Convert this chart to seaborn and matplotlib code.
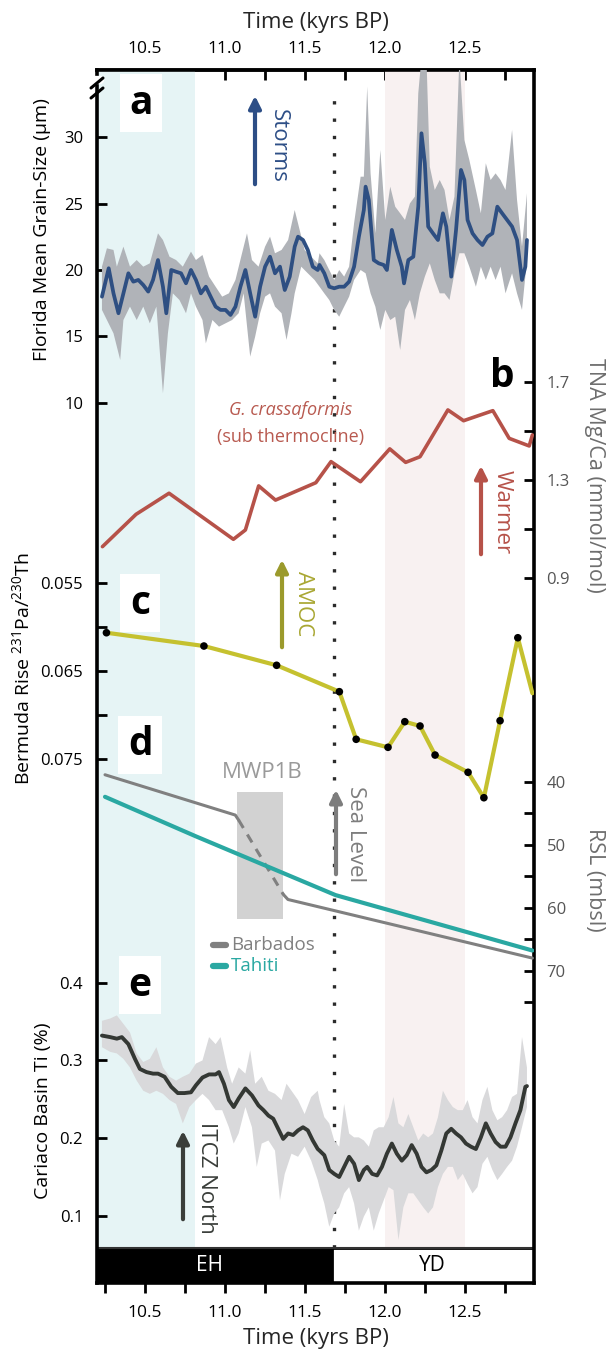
import numpy as np
import seaborn as sns
import matplotlib.pyplot as plt
from matplotlib import font_manager
from matplotlib.patches import Rectangle, FancyArrowPatch
from matplotlib.lines import Line2D

# ---------------- data ----------------
# a: Florida mean grain size (um), smoothed line + raw envelope
grain_t = [10.231, 10.273, 10.303, 10.334, 10.365, 10.396, 10.427, 10.458, 10.489, 10.52,
           10.55, 10.581, 10.612, 10.633, 10.664, 10.694, 10.725, 10.756, 10.787, 10.818,
           10.849, 10.88, 10.91, 10.941, 10.972, 11.003, 11.034, 11.065, 11.096, 11.127,
           11.157, 11.188, 11.219, 11.25, 11.281, 11.312, 11.343, 11.373, 11.404, 11.435,
           11.456, 11.487, 11.517, 11.548, 11.579, 11.59, 11.62, 11.651, 11.682, 11.713,
           11.744, 11.775, 11.806, 11.836, 11.867, 11.878, 11.898, 11.929, 11.96, 11.991,
           12.011, 12.042, 12.073, 12.104, 12.118, 12.145, 12.176, 12.207, 12.227, 12.248,
           12.269, 12.299, 12.33, 12.361, 12.382, 12.413, 12.443, 12.474, 12.495, 12.515,
           12.546, 12.577, 12.608, 12.639, 12.67, 12.701, 12.731, 12.762, 12.793, 12.824,
           12.855, 12.876, 12.886]
grain = [17.99, 20.13, 18.24, 16.74, 18.24, 19.75, 19.12, 19.25, 18.87, 18.37,
         19.25, 20.75, 18.74, 16.74, 20.0, 19.87, 19.75, 19.0, 20.0, 19.25,
         18.24, 18.74, 17.99, 17.24, 16.99, 16.99, 16.61, 17.24, 18.74, 20.0,
         18.24, 16.48, 18.74, 20.25, 21.0, 19.75, 20.25, 18.49, 19.5, 21.76,
         22.51, 22.26, 21.51, 20.25, 20.0, 20.38, 19.75, 18.74, 18.62, 18.74,
         18.74, 19.12, 20.25, 22.51, 24.52, 26.28, 25.28, 20.75, 20.5, 20.38,
         20.0, 23.02, 21.51, 20.25, 18.99, 20.75, 21.0, 24.77, 30.3, 28.04,
         23.27, 22.76, 22.26, 24.27, 23.27, 19.5, 23.02, 27.54, 26.78, 23.77,
         22.76, 22.26, 21.88, 22.51, 22.76, 24.77, 24.27, 23.77, 23.27, 22.26,
         19.25, 20.25, 22.26]
grain_hi_t = [10.231, 10.262, 10.303, 10.324, 10.365, 10.406, 10.448, 10.489, 10.53, 10.581,
              10.612, 10.653, 10.694, 10.736, 10.787, 10.818, 10.859, 10.9, 10.941, 10.982,
              11.024, 11.065, 11.106, 11.137, 11.168, 11.209, 11.25, 11.281, 11.312, 11.353,
              11.394, 11.435, 11.466, 11.497, 11.538, 11.579, 11.59, 11.62, 11.651, 11.682,
              11.713, 11.744, 11.775, 11.806, 11.847, 11.867, 11.888, 11.909, 11.939, 11.97,
              12.001, 12.032, 12.063, 12.094, 12.124, 12.155, 12.186, 12.207, 12.227, 12.258,
              12.279, 12.31, 12.341, 12.371, 12.402, 12.433, 12.464, 12.495, 12.526, 12.567,
              12.598, 12.629, 12.659, 12.69, 12.721, 12.752, 12.793, 12.824, 12.855, 12.886]
grain_hi = [20.25, 21.63, 21.51, 20.25, 21.76, 20.25, 20.75, 20.25, 20.5, 22.76,
            22.26, 21.0, 20.75, 20.25, 21.38, 20.75, 21.13, 19.5, 18.74, 17.99,
            18.24, 19.25, 21.26, 22.76, 20.75, 20.25, 21.76, 22.51, 21.26, 21.51,
            22.26, 24.52, 23.02, 21.51, 21.0, 20.5, 21.26, 20.75, 20.0, 19.25,
            20.0, 19.5, 20.25, 23.52, 27.03, 27.03, 33.82, 27.28, 22.76, 29.04,
            23.77, 26.28, 24.77, 24.27, 23.77, 25.02, 25.53, 33.31, 36.0, 36.0,
            27.79, 26.03, 26.78, 26.03, 23.77, 25.53, 36.0, 29.8, 28.29, 26.03,
            24.27, 28.04, 26.78, 27.28, 26.78, 26.03, 30.55, 25.28, 21.76, 25.78]
grain_lo_t = [10.231, 10.262, 10.303, 10.345, 10.365, 10.406, 10.448, 10.489, 10.53, 10.571,
              10.612, 10.643, 10.674, 10.715, 10.756, 10.787, 10.818, 10.859, 10.88, 10.921,
              10.962, 11.003, 11.044, 11.085, 11.116, 11.157, 11.188, 11.219, 11.25, 11.281,
              11.312, 11.353, 11.384, 11.415, 11.435, 11.476, 11.517, 11.559, 11.59, 11.62,
              11.651, 11.682, 11.713, 11.744, 11.775, 11.806, 11.847, 11.878, 11.909, 11.939,
              11.97, 12.001, 12.032, 12.063, 12.094, 12.124, 12.155, 12.186, 12.217, 12.248,
              12.279, 12.31, 12.341, 12.371, 12.402, 12.433, 12.464, 12.495, 12.526, 12.567,
              12.598, 12.629, 12.659, 12.69, 12.721, 12.752, 12.793, 12.824, 12.855, 12.886]
grain_lo = [16.99, 16.23, 15.23, 13.22, 16.23, 17.24, 16.23, 17.24, 15.98, 17.24,
            10.71, 15.23, 18.24, 17.74, 16.74, 18.24, 17.24, 16.23, 14.47, 16.23,
            15.73, 15.98, 16.23, 16.74, 18.24, 13.47, 14.98, 16.74, 17.99, 18.24,
            17.24, 16.74, 14.73, 16.74, 18.24, 20.25, 19.75, 19.25, 18.74, 18.24,
            17.74, 16.99, 16.48, 17.24, 17.99, 19.25, 20.0, 19.75, 18.24, 17.24,
            15.48, 16.99, 16.23, 16.48, 13.97, 16.99, 17.74, 16.23, 18.24, 19.5,
            20.5, 19.25, 18.24, 18.24, 17.74, 19.75, 21.26, 21.26, 20.25, 18.74,
            20.25, 19.25, 20.25, 19.25, 20.25, 18.24, 19.75, 18.24, 16.99, 20.75]

# b: TNA Mg/Ca (mmol/mol), G. crassaformis
mgca_t = [10.234, 10.444, 10.65, 11.052, 11.127, 11.21, 11.315, 11.567, 11.662, 11.846,
          12.029, 12.128, 12.218, 12.392, 12.49, 12.673, 12.775, 12.9, 12.92]
mgca = [1.028, 1.16, 1.246, 1.058, 1.096, 1.276, 1.218, 1.289, 1.375, 1.293,
        1.427, 1.372, 1.395, 1.586, 1.542, 1.583, 1.47, 1.439, 1.484]

# c: Bermuda Rise 231Pa/230Th
amoc_t = [10.259, 10.868, 11.322, 11.714, 11.819, 12.018, 12.123, 12.218, 12.312, 12.518,
          12.617, 12.718, 12.829, 12.92]
amoc = [0.06065, 0.06216, 0.06435, 0.06735, 0.07276, 0.07367, 0.07076, 0.07125, 0.07455, 0.07651,
        0.0794, 0.07065, 0.06122, 0.06753]

# d: relative sea level (mbsl)
barbados_t = [10.25, 11.064, 11.085, 11.364, 11.393, 12.92]
barbados = [38.9, 45.3, 46.1, 57.9, 58.7, 68.0]
tahiti_t = [10.25, 10.82, 11.69, 12.92]
tahiti = [42.4, 48.7, 58.0, 66.8]
mwp1b_t = [11.075, 11.36]
mwp1b_rsl = [41.7, 61.8]

# e: Cariaco Basin Ti (%)
ti_t = [10.231, 10.283, 10.324, 10.355, 10.396, 10.437, 10.468, 10.509, 10.55, 10.581,
        10.622, 10.664, 10.705, 10.746, 10.787, 10.818, 10.859, 10.9, 10.941, 10.962,
        10.993, 11.024, 11.054, 11.085, 11.127, 11.168, 11.209, 11.24, 11.271, 11.301,
        11.332, 11.363, 11.394, 11.425, 11.456, 11.487, 11.517, 11.548, 11.579, 11.59,
        11.62, 11.651, 11.682, 11.713, 11.744, 11.775, 11.806, 11.836, 11.867, 11.888,
        11.919, 11.95, 11.98, 12.011, 12.042, 12.073, 12.104, 12.135, 12.166, 12.197,
        12.227, 12.258, 12.289, 12.32, 12.351, 12.382, 12.413, 12.443, 12.474, 12.505,
        12.536, 12.567, 12.598, 12.629, 12.659, 12.69, 12.721, 12.752, 12.783, 12.814,
        12.845, 12.876, 12.886]
ti = [0.332, 0.33, 0.328, 0.33, 0.321, 0.302, 0.289, 0.285, 0.283, 0.283,
      0.279, 0.266, 0.258, 0.258, 0.259, 0.268, 0.278, 0.282, 0.282, 0.285,
      0.27, 0.249, 0.24, 0.251, 0.264, 0.255, 0.242, 0.236, 0.229, 0.225,
      0.212, 0.199, 0.206, 0.204, 0.21, 0.214, 0.21, 0.197, 0.186, 0.184,
      0.178, 0.159, 0.154, 0.15, 0.163, 0.176, 0.167, 0.146, 0.159, 0.163,
      0.154, 0.152, 0.163, 0.18, 0.193, 0.18, 0.171, 0.178, 0.191, 0.18,
      0.163, 0.156, 0.159, 0.165, 0.184, 0.206, 0.212, 0.206, 0.201, 0.193,
      0.189, 0.186, 0.201, 0.219, 0.206, 0.195, 0.189, 0.189, 0.201, 0.219,
      0.236, 0.266, 0.267]
ti_hi_t = [10.231, 10.283, 10.324, 10.365, 10.406, 10.448, 10.489, 10.53, 10.571, 10.612,
           10.653, 10.694, 10.736, 10.777, 10.818, 10.859, 10.9, 10.941, 10.972, 11.013,
           11.044, 11.085, 11.127, 11.157, 11.188, 11.229, 11.271, 11.312, 11.353, 11.384,
           11.415, 11.456, 11.497, 11.538, 11.579, 11.59, 11.62, 11.651, 11.682, 11.713,
           11.744, 11.775, 11.806, 11.836, 11.867, 11.898, 11.929, 11.96, 11.991, 12.022,
           12.052, 12.083, 12.114, 12.145, 12.176, 12.207, 12.238, 12.269, 12.299, 12.33,
           12.361, 12.392, 12.423, 12.454, 12.485, 12.515, 12.546, 12.577, 12.608, 12.639,
           12.67, 12.701, 12.731, 12.762, 12.793, 12.824, 12.855, 12.886]
ti_hi = [0.351, 0.354, 0.358, 0.347, 0.336, 0.309, 0.298, 0.302, 0.317, 0.291,
         0.279, 0.274, 0.279, 0.283, 0.296, 0.3, 0.33, 0.321, 0.33, 0.291,
         0.27, 0.291, 0.283, 0.313, 0.27, 0.279, 0.261, 0.257, 0.249, 0.27,
         0.261, 0.249, 0.231, 0.253, 0.261, 0.249, 0.227, 0.219, 0.197, 0.189,
         0.244, 0.206, 0.201, 0.201, 0.197, 0.189, 0.21, 0.214, 0.214, 0.227,
         0.253, 0.219, 0.214, 0.231, 0.214, 0.197, 0.206, 0.201, 0.206, 0.227,
         0.261, 0.249, 0.24, 0.236, 0.236, 0.249, 0.227, 0.219, 0.249, 0.266,
         0.236, 0.223, 0.227, 0.236, 0.253, 0.257, 0.33, 0.291]
ti_lo_t = [10.231, 10.283, 10.324, 10.365, 10.406, 10.448, 10.489, 10.53, 10.571, 10.612,
           10.653, 10.694, 10.736, 10.777, 10.818, 10.859, 10.9, 10.941, 10.982, 11.024,
           11.054, 11.085, 11.127, 11.168, 11.198, 11.229, 11.271, 11.312, 11.343, 11.373,
           11.415, 11.456, 11.497, 11.538, 11.579, 11.59, 11.62, 11.651, 11.682, 11.713,
           11.744, 11.775, 11.806, 11.836, 11.867, 11.898, 11.929, 11.96, 11.991, 12.022,
           12.052, 12.083, 12.114, 12.145, 12.176, 12.207, 12.238, 12.269, 12.299, 12.33,
           12.361, 12.392, 12.423, 12.454, 12.485, 12.515, 12.546, 12.577, 12.608, 12.639,
           12.67, 12.701, 12.731, 12.762, 12.793, 12.824, 12.855, 12.886]
ti_lo = [0.317, 0.311, 0.309, 0.302, 0.291, 0.274, 0.261, 0.257, 0.261, 0.257,
         0.249, 0.244, 0.219, 0.24, 0.249, 0.257, 0.249, 0.236, 0.236, 0.214,
         0.193, 0.206, 0.24, 0.214, 0.163, 0.193, 0.197, 0.184, 0.12, 0.154,
         0.18, 0.176, 0.189, 0.171, 0.146, 0.137, 0.116, 0.086, 0.103, 0.111,
         0.129, 0.137, 0.116, 0.081, 0.099, 0.111, 0.081, 0.103, 0.12, 0.137,
         0.133, 0.069, 0.111, 0.129, 0.129, 0.12, 0.111, 0.103, 0.111, 0.137,
         0.154, 0.163, 0.163, 0.146, 0.154, 0.141, 0.129, 0.137, 0.167, 0.176,
         0.159, 0.146, 0.154, 0.163, 0.171, 0.189, 0.214, 0.24]

time_ticks = [10.25, 10.5, 10.75, 11.0, 11.25, 11.5, 11.75, 12.0, 12.25, 12.5, 12.75]
time_labels = ['', '10.5', '', '11.0', '', '11.5', '', '12.0', '', '12.5', '']
eh_span = (10.2, 10.81)     # blue shading
yd_span = (12.0, 12.5)      # pink shading
boundary = 11.68            # dotted line
eh_end = 11.665             # EH / YD bar split
XMIN, XMAX = 10.2, 12.93

# ---------------- style ----------------
sns.set_theme(style="ticks")
plt.rcParams['font.family'] = ['Open Sans', 'DejaVu Sans']
plt.rcParams['text.color'] = 'black'
plt.rcParams['xtick.color'] = 'black'
plt.rcParams['ytick.color'] = 'black'

names = {f.name for f in font_manager.fontManager.ttflist}
if 'Liberation Sans Narrow' in names:
    lab_font, lab_size = 'Liberation Sans Narrow', 18
else:
    lab_font, lab_size = 'Open Sans', 14
plt.rcParams['mathtext.fontset'] = 'custom'
plt.rcParams['mathtext.rm'] = lab_font
plt.rcParams['mathtext.default'] = 'rm'

W, H = 608, 1359
fig = plt.figure(figsize=(W / 100, H / 100), dpi=100)


def fx(x):
    return x / W


def fy(y):
    return 1 - y / H


def rect(x0, y0, x1, y1):
    return [fx(x0), fy(y1), fx(x1) - fx(x0), fy(y0) - fy(y1)]


# frame axis with shading, dotted line, EH/YD bar and time ticks
ax0 = fig.add_axes(rect(97, 70, 534, 1283))
ax0.set_xlim(XMIN, XMAX)
ax0.set_ylim(0, 1)
bar_top = (1283 - 1248) / (1283 - 70)
ax0.axvspan(*eh_span, ymin=bar_top, ymax=1, color='#e6f4f5', lw=0)
ax0.axvspan(*yd_span, ymin=bar_top, ymax=1, color='#f8f1f1', lw=0)
ax0.axvline(boundary, ymin=bar_top, ymax=0.985, color='#2b2b2b', lw=2.4, ls=(0, (1, 4.2)))
ax0.add_patch(Rectangle((XMIN, 0), eh_end - XMIN, bar_top, color='black', lw=0))
ax0.add_patch(Rectangle((eh_end, 0), XMAX - eh_end, bar_top, facecolor='white',
                        edgecolor='black', lw=2))
ax0.axhline(bar_top, color='#333333', lw=1.5)
ax0.text((XMIN + eh_end) / 2 - 0.03, bar_top / 2, 'EH', color='white', fontsize=15,
         ha='center', va='center')
ax0.text((eh_end + XMAX) / 2, bar_top / 2, 'YD', color='black', fontsize=15,
         ha='center', va='center')
for s in ax0.spines.values():
    s.set_linewidth(2.6)
    s.set_color('black')
ax0.set_xticks(time_ticks, time_labels)
ax0.tick_params(axis='x', direction='out', length=7, width=2, pad=9, labelsize=12.5)
ax0.tick_params(axis='y', left=False, right=False, labelleft=False)
ax0.set_xlabel('Time (kyrs BP)', fontsize=16, labelpad=5)
top = ax0.secondary_xaxis('top')
top.set_xticks(time_ticks, time_labels)
top.tick_params(direction='in', length=7, width=2, pad=9, labelsize=12.5)
top.set_xlabel('Time (kyrs BP)', fontsize=16, labelpad=10)
top.spines['top'].set_linewidth(2.6)


def panel(ylim):
    ax = fig.add_axes(rect(97, 70, 534, 1248))
    ax.set_facecolor('none')
    for s in ax.spines.values():
        s.set_visible(False)
    ax.set_xlim(XMIN, XMAX)
    ax.set_ylim(*ylim)
    ax.tick_params(axis='x', bottom=False, top=False, labelbottom=False)
    return ax


def left_ticks(ax):
    ax.tick_params(axis='y', direction='in', length=7, width=2, labelsize=12, pad=10,
                   left=True, labelleft=True, right=False, labelright=False)


def right_ticks(ax):
    ax.yaxis.tick_right()
    ax.tick_params(axis='y', direction='in', length=7, width=2, labelsize=12, pad=9,
                   left=False, labelleft=False, right=True, labelright=True,
                   labelcolor='#555555')


# a
ax_a = panel((-53.7, 35.07))
ax_a.fill(np.r_[grain_hi_t, grain_lo_t[::-1]], np.r_[grain_hi, grain_lo[::-1]],
          color='#b0b3b8', lw=0)
sns.lineplot(x=grain_t, y=grain, ax=ax_a, color='#2e4f82', lw=2.7, sort=False)
ax_a.set_yticks([10, 15, 20, 25, 30])
left_ticks(ax_a)

# b
ax_b = panel((-1.8347, 2.9735))
sns.lineplot(x=mgca_t, y=mgca, ax=ax_b, color='#b65249', lw=2.6, sort=False)
ax_b.set_yticks([0.9, 1.1, 1.3, 1.5, 1.7], ['0.9', '', '1.3', '', '1.7'])
right_ticks(ax_b)

# c
ax_c = panel((0.13057, -0.0033))
sns.lineplot(x=amoc_t, y=amoc, ax=ax_c, color='#c5c12f', lw=3, sort=False)
sns.scatterplot(x=amoc_t[:-1], y=amoc[:-1], ax=ax_c, color='black', s=30,
                edgecolor='none', zorder=5)
ax_c.set_yticks([0.055, 0.060, 0.065, 0.070, 0.075], ['0.055', '', '0.065', '', '0.075'])
left_ticks(ax_c)

# d
ax_d = panel((114.02, -72.97))
ax_d.add_patch(Rectangle((mwp1b_t[0], mwp1b_rsl[0]), mwp1b_t[1] - mwp1b_t[0],
                         mwp1b_rsl[1] - mwp1b_rsl[0], color='#d2d2d2', lw=0))
sns.lineplot(x=barbados_t[:3], y=barbados[:3], ax=ax_d, color='#808080', lw=2.2, sort=False)
sns.lineplot(x=barbados_t[2:4], y=barbados[2:4], ax=ax_d, color='#808080', lw=2.2,
             ls=(0, (3, 2.5)), sort=False)
sns.lineplot(x=barbados_t[3:], y=barbados[3:], ax=ax_d, color='#808080', lw=2.2, sort=False)
sns.lineplot(x=tahiti_t, y=tahiti, ax=ax_d, color='#2aa8a2', lw=3, sort=False)
ax_d.set_yticks([40, 45, 50, 55, 60, 65, 70, 75], ['40', '', '50', '', '60', '', '70', ''])
right_ticks(ax_d)

# e
ax_e = panel((0.0586, 1.5747))
ax_e.fill(np.r_[ti_hi_t, ti_lo_t[::-1]], np.r_[ti_hi, ti_lo[::-1]], color='#d9d9db', lw=0)
sns.lineplot(x=ti_t, y=ti, ax=ax_e, color='#343834', lw=2.8, sort=False)
ax_e.set_yticks([0.1, 0.2, 0.3, 0.4])
left_ticks(ax_e)

for ax in [ax_a, ax_b, ax_c, ax_d, ax_e]:
    ax.set_xlabel('')
    ax.set_ylabel('')

# axis titles
fig.text(fx(42), fy(230), 'Florida Mean Grain-Size (µm)', rotation=90, ha='center',
         va='center', family=lab_font, fontsize=lab_size)
fig.text(fx(22), fy(669), r'Bermuda Rise $^{231}$Pa/$^{230}$Th', rotation=90,
         ha='center', va='center', family=lab_font, fontsize=lab_size)
fig.text(fx(43), fy(1111), 'Cariaco Basin Ti (%)', rotation=90, ha='center', va='center',
         family=lab_font, fontsize=lab_size)
fig.text(fx(594), fy(475), 'TNA Mg/Ca (mmol/mol)', rotation=270, ha='center', va='center',
         fontsize=15.5, color='#6e6e6e')
fig.text(fx(594), fy(880), 'RSL (mbsl)', rotation=270, ha='center', va='center',
         fontsize=15.5, color='#6e6e6e')

# panel letters
for letter, (lx, ly) in zip('abcde', [(141, 103), (502, 377), (140, 603), (140, 745), (140, 985)]):
    fig.text(fx(lx), fy(ly), letter, fontsize=28, fontweight='bold', ha='center', va='center',
             bbox=dict(boxstyle='square,pad=0.25', fc='white', ec='none'))

# arrows with labels
arrows = [(255, 187, 93, '#2d4e86', 'Storms', 278, 146),
          (481, 557, 463, '#b65249', 'Warmer', 502, 512),
          (282, 650, 557, '#9b9a2c', 'AMOC', 304, 604),
          (336, 877, 787, '#7d7d7d', 'Sea Level', 355, 834),
          (183, 1222, 1128, '#3a3e3a', 'ITCZ North', 206, 1178)]
for axx, y0, y1, col, lab, tx, ty in arrows:
    fig.add_artist(FancyArrowPatch((fx(axx), fy(y0)), (fx(axx), fy(y1)),
                                   transform=fig.transFigure, arrowstyle='-|>',
                                   mutation_scale=18, lw=3, color=col))
    tcol = '#a9a733' if lab == 'AMOC' else col
    fig.text(fx(tx), fy(ty), lab, rotation=270, ha='center', va='center', fontsize=16,
             color=tcol)

fig.text(fx(291), fy(410), 'G. crassaformis', fontsize=13, style='italic', color='#b85a50',
         ha='center', va='center')
fig.text(fx(291), fy(437), '(sub thermocline)', fontsize=13, color='#b85a50',
         ha='center', va='center')
fig.text(fx(262), fy(773), 'MWP1B', fontsize=16, color='#9a9a9a', ha='center', va='center')

# legend for sea level records
for ly, col, lab in [(945, '#808080', 'Barbados'), (966, '#2aa8a2', 'Tahiti')]:
    fig.add_artist(Line2D([fx(213), fx(226)], [fy(ly), fy(ly)], color=col, lw=4.5))
    fig.text(fx(231), fy(ly), lab, fontsize=13.5, color=col, ha='left', va='center')

# axis break mark at top left
fig.add_artist(Line2D([fx(95), fx(100)], [fy(80), fy(80)], color='white', lw=6))
for by in (83, 93):
    fig.add_artist(Line2D([fx(91), fx(103)], [fy(by + 5), fy(by - 5)], color='black', lw=2.2))

fig.savefig('out.png', dpi=100)
